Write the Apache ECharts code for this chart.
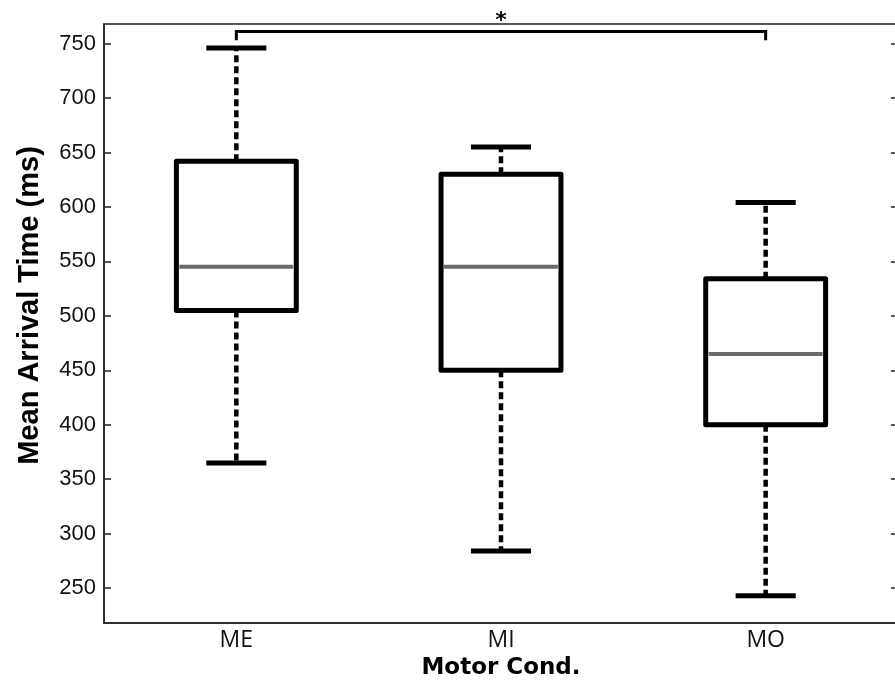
<!DOCTYPE html>
<html>
<head>
<meta charset="utf-8">
<script src="https://cdn.jsdelivr.net/npm/echarts@6/dist/echarts.min.js"></script>
<style>
  html, body { margin: 0; padding: 0; background: #fff; }
  #chart { width: 895px; height: 681px; }
</style>
</head>
<body>
<div id="chart"></div>
<script>
// 数据
var categories = ['ME', 'MI', 'MO'];
var whiskerLow = [365, 284, 243];
var q1 = [505, 450, 400];
var median = [545, 545, 465];
var q3 = [642, 630, 534];
var whiskerHigh = [746, 655, 604];
var yTicks = [250, 300, 350, 400, 450, 500, 550, 600, 650, 700, 750];

// 显著性标记 ME vs MO
var bracketFrom = 0, bracketTo = 2;
var bracketTop = 761, bracketFoot = 753;
var sigText = '*';

var boxData = [];
for (var i = 0; i < categories.length; i++) {
    boxData.push([i, whiskerLow[i], q1[i], median[i], q3[i], whiskerHigh[i]]);
}

var myChart = echarts.init(document.getElementById('chart'));

function renderBox(params, api) {
    var idx = api.value(0);
    var pLow = api.coord([idx, api.value(1)]);
    var pQ1 = api.coord([idx, api.value(2)]);
    var pMed = api.coord([idx, api.value(3)]);
    var pQ3 = api.coord([idx, api.value(4)]);
    var pHigh = api.coord([idx, api.value(5)]);
    var band = api.size([1, 0])[0];
    var bw = band * 0.453 / 2;  // 箱宽一半
    var cw = band * 0.227 / 2;  // 须端一半
    var x = pLow[0];
    var dashStyle = { stroke: '#000', lineWidth: 4.5, lineDash: [7, 4] };
    var solid = { stroke: '#000', lineWidth: 5 };
    return {
        type: 'group',
        children: [
            { type: 'line', shape: { x1: x, y1: pQ3[1], x2: x, y2: pHigh[1] }, style: dashStyle },
            { type: 'line', shape: { x1: x, y1: pQ1[1], x2: x, y2: pLow[1] }, style: dashStyle },
            { type: 'line', shape: { x1: x - cw, y1: pHigh[1], x2: x + cw, y2: pHigh[1] }, style: solid },
            { type: 'line', shape: { x1: x - cw, y1: pLow[1], x2: x + cw, y2: pLow[1] }, style: solid },
            {
                type: 'rect',
                shape: { x: x - bw, y: pQ3[1], width: bw * 2, height: pQ1[1] - pQ3[1] },
                style: { fill: '#fff', stroke: '#000', lineWidth: 5, lineJoin: 'round' }
            },
            { type: 'line', shape: { x1: x - bw + 3, y1: pMed[1], x2: x + bw - 3, y2: pMed[1] },
              style: { stroke: '#6a6a6a', lineWidth: 4 } }
        ]
    };
}

function renderBracket(params, api) {
    var a = api.coord([api.value(0), api.value(2)]);
    var b = api.coord([api.value(1), api.value(2)]);
    var foot = api.coord([api.value(0), api.value(3)])[1];
    return {
        type: 'group',
        children: [
            {
                type: 'polyline',
                shape: { points: [[a[0], foot], [a[0], a[1]], [b[0], b[1]], [b[0], foot]] },
                style: { stroke: '#000', lineWidth: 3, fill: null }
            },
            {
                type: 'text',
                style: {
                    text: sigText, x: (a[0] + b[0]) / 2, y: a[1] + 1,
                    align: 'center', verticalAlign: 'bottom',
                    font: 'bold 22px "DejaVu Sans"', fill: '#000'
                }
            }
        ]
    };
}

var option = {
    backgroundColor: '#fff',
    animation: false,
    grid: {
        left: 104, right: -3, top: 24, bottom: 58,
        outerBoundsMode: 'none',
        containLabel: false,
        show: true, borderColor: '#222', borderWidth: 1.5
    },
    xAxis: {
        type: 'category',
        data: categories,
        boundaryGap: true,
        name: 'Motor Cond.',
        nameLocation: 'middle',
        nameGap: 26,
        nameTextStyle: { fontFamily: 'DejaVu Sans', fontWeight: 'bold', fontSize: 23, color: '#000' },
        axisLine: { lineStyle: { color: '#222', width: 1.5 } },
        axisTick: { show: false },
        axisLabel: { fontFamily: 'Open Sans', fontSize: 23, color: '#111', margin: 6 },
        splitLine: { show: false }
    },
    yAxis: [{
        type: 'value',
        min: 218,
        max: 768,
        name: 'Mean Arrival Time (ms)',
        nameLocation: 'middle',
        nameGap: 60,
        nameTextStyle: { fontFamily: 'Liberation Sans', fontWeight: 'bold', fontSize: 29, color: '#000', padding: [0, 0, 0, 36] },
        axisLine: { show: true, lineStyle: { color: '#222', width: 1.5 } },
        axisTick: { show: true, inside: true, length: 7, customValues: yTicks, lineStyle: { color: '#222', width: 1.5 } },
        axisLabel: { customValues: yTicks, fontFamily: 'Liberation Sans', fontSize: 22, color: '#111', margin: 8 },
        splitLine: { show: false }
    }, {
        type: 'value',
        position: 'right',
        min: 218,
        max: 768,
        axisLine: { show: true, lineStyle: { color: '#222', width: 1.5 } },
        axisTick: { show: true, inside: true, length: 7, customValues: yTicks, lineStyle: { color: '#222', width: 1.5 } },
        axisLabel: { show: false },
        splitLine: { show: false }
    }],
    series: [
        {
            type: 'custom',
            renderItem: renderBox,
            data: boxData,
            encode: { x: 0, y: [1, 2, 3, 4, 5] },
            z: 3
        },
        {
            type: 'custom',
            renderItem: renderBracket,
            clip: false,
            data: [[bracketFrom, bracketTo, bracketTop, bracketFoot]],
            encode: { x: [0, 1], y: [2, 3] },
            z: 4
        }
    ]
};

myChart.setOption(option);
</script>
</body>
</html>
